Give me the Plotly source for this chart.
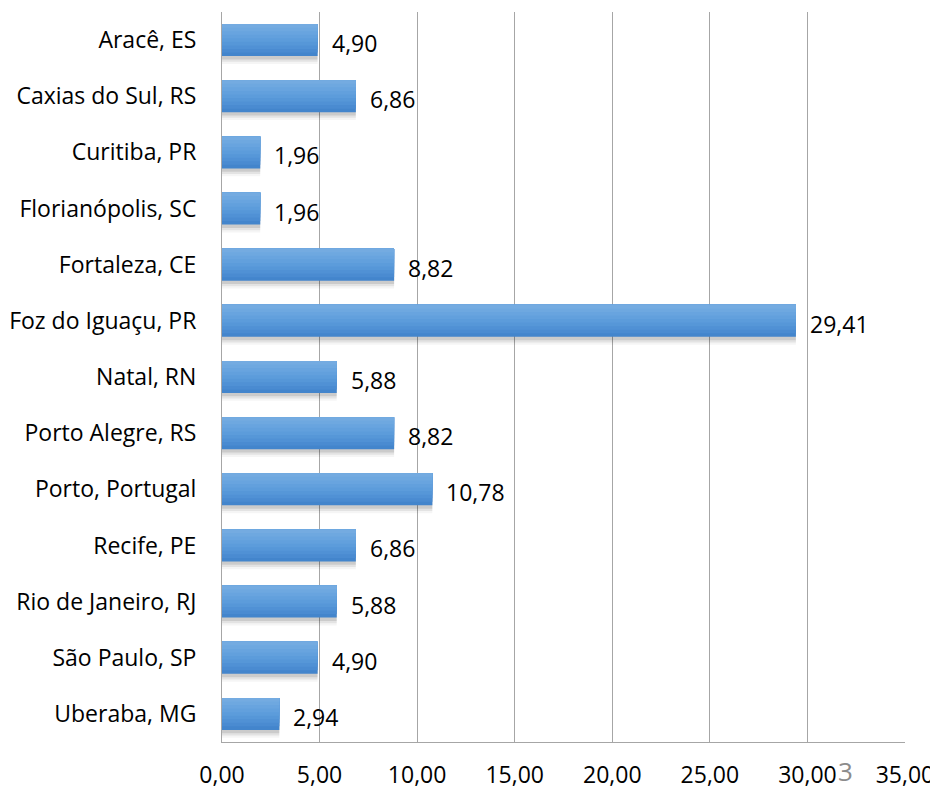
import plotly.graph_objects as go

cities = ["Aracê, ES", "Caxias do Sul, RS", "Curitiba, PR", "Florianópolis, SC",
          "Fortaleza, CE", "Foz do Iguaçu, PR", "Natal, RN", "Porto Alegre, RS",
          "Porto, Portugal", "Recife, PE", "Rio de Janeiro, RJ", "São Paulo, SP",
          "Uberaba, MG"]
values = [4.90, 6.86, 1.96, 1.96, 8.82, 29.41, 5.88, 8.82, 10.78, 6.86, 5.88, 4.90, 2.94]
x_ticks = [0, 5, 10, 15, 20, 25, 30, 35]

FONT = "Open Sans, Lato, sans-serif"
FS = 23
fig = go.Figure()

bar_w = 0.57
# soft shadow layers below the bars
for extra, alpha in [(0.14, 0.04), (0.10, 0.07), (0.06, 0.10)]:
    fig.add_trace(go.Bar(
        y=cities, x=values, orientation="h", width=bar_w, offset=-bar_w / 2 + extra,
        marker=dict(color=f"rgba(0,0,0,{alpha})", line=dict(width=0)),
        hoverinfo="skip", showlegend=False))

# gradient: nested bars anchored at the top edge, darker towards the bottom
band_colors = ["#4385CC", "#4A8BD1", "#5091D5", "#5697D8", "#5C9CDB", "#62A0DD",
               "#68A4DF", "#6EA8E0", "#74ABE1"]
n = len(band_colors)
for i, c in enumerate(band_colors):
    w = bar_w * (n - i) / n
    fig.add_trace(go.Bar(
        y=cities, x=values, orientation="h", width=w, offset=-bar_w / 2,
        marker=dict(color=c, line=dict(width=0)),
        hoverinfo="skip", showlegend=False))

for c, v in zip(cities, values):
    fig.add_annotation(x=v, y=c, text=f"{v:.2f}".replace(".", ","), showarrow=False,
                       xanchor="left", xshift=12, yshift=-3,
                       font=dict(family=FONT, size=FS, color="black"))

tick_text = [f"{t:.2f}".replace(".", ",") for t in x_ticks]

fig.add_annotation(x=0.913, y=-0.040, xref="paper", yref="paper", text="3", showarrow=False,
                   font=dict(family=FONT, size=26, color="#8C8C8C"), borderpad=0,
                   xanchor="center", yanchor="middle")

fig.update_layout(
    width=930, height=781,
    margin=dict(l=214, r=33, t=4, b=47),
    plot_bgcolor="white", paper_bgcolor="white",
    barmode="overlay",
    separators=",.",
    font=dict(family=FONT, size=FS, color="black"),
    xaxis=dict(range=[0, 35], tickvals=x_ticks, ticktext=tick_text, showgrid=True,
               gridcolor="#A6A6A6", gridwidth=1, showline=True, linecolor="#A6A6A6",
               zeroline=False, ticks="", ticklabelstandoff=12, automargin=False,
               tickfont=dict(size=FS)),
    yaxis=dict(autorange="reversed", showgrid=False, showline=True, linecolor="#A6A6A6",
               ticks="", ticklabelstandoff=20, automargin=False, tickfont=dict(size=FS)),
)

fig.write_html("out.html")
